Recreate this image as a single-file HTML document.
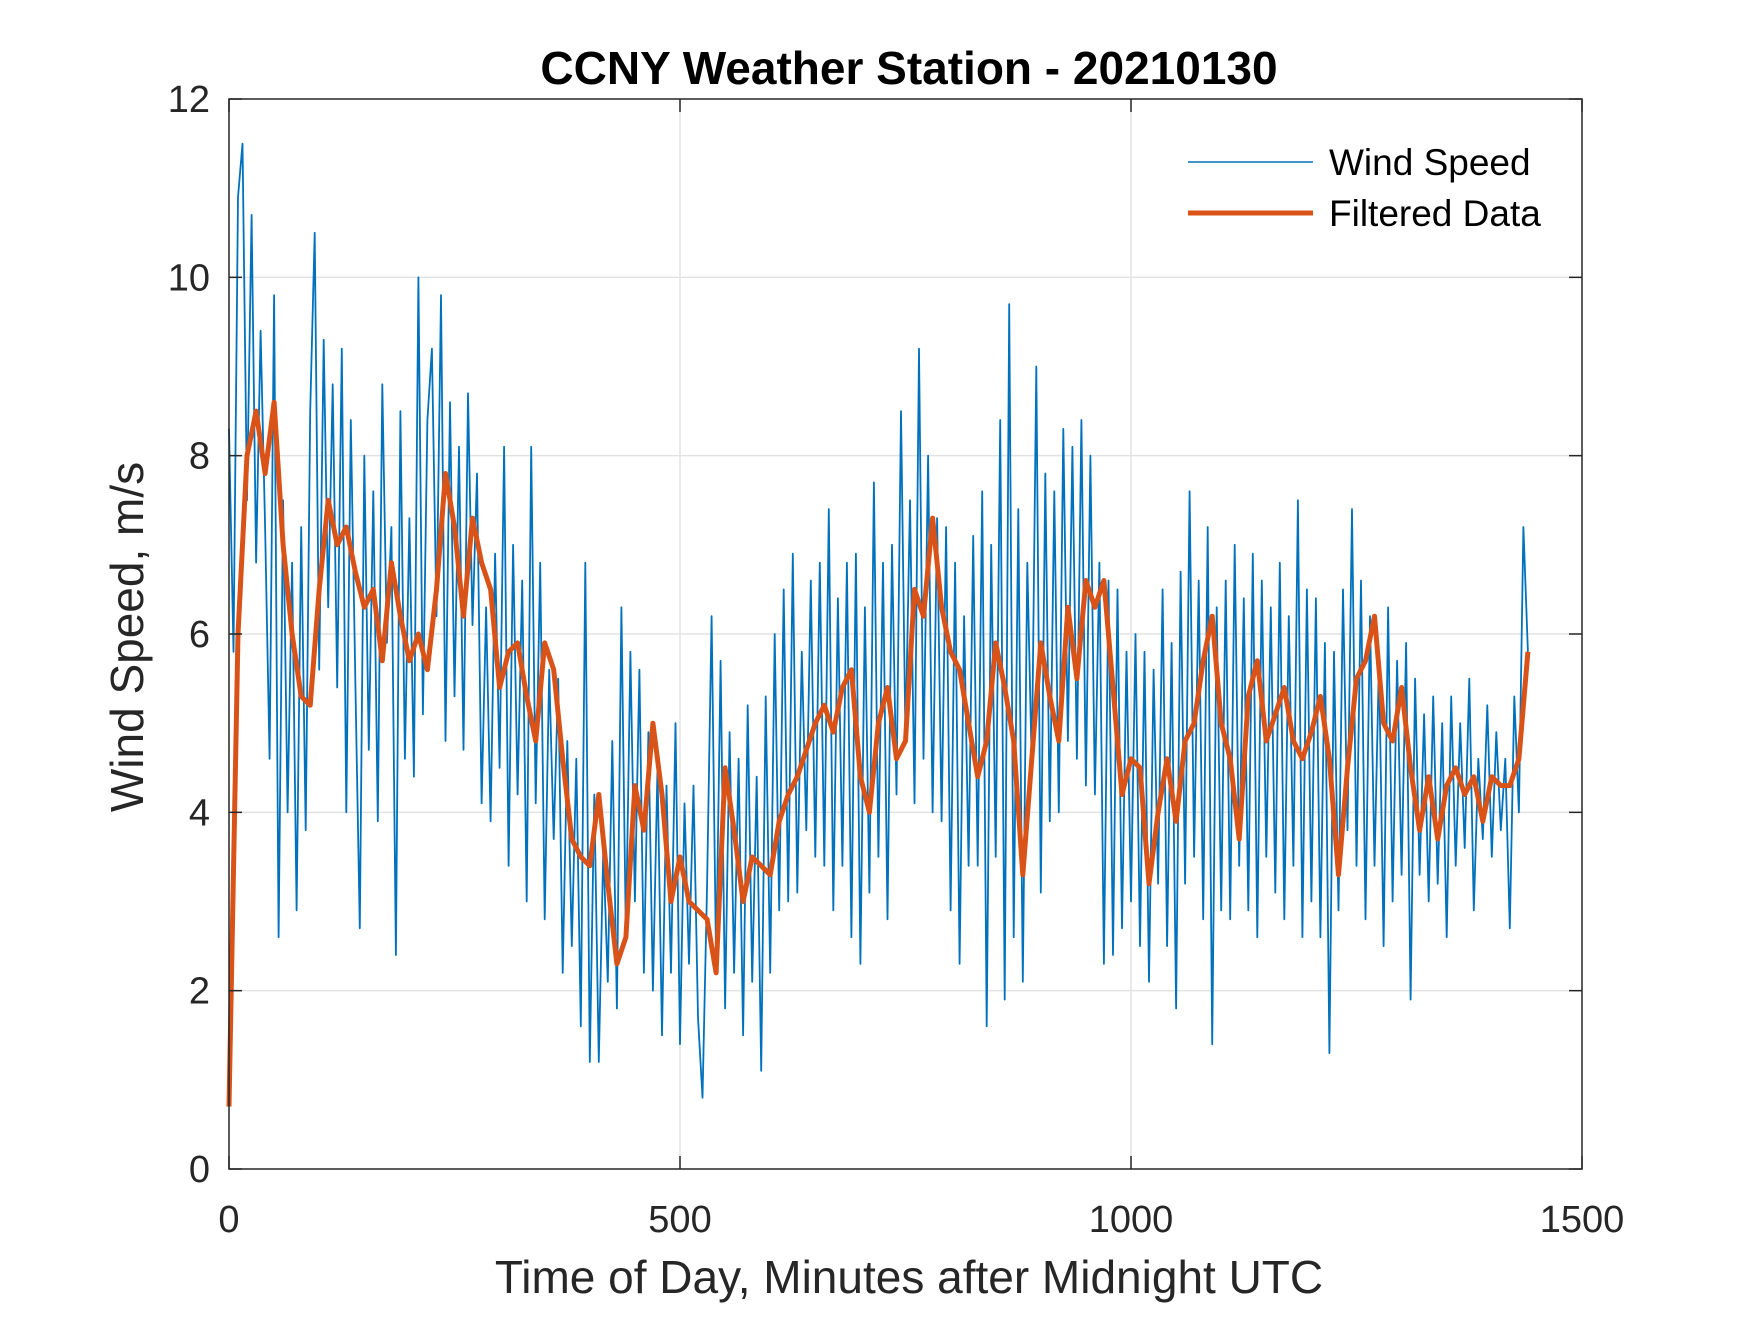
<!DOCTYPE html>
<html><head><meta charset="utf-8"><style>
body{margin:0;background:#fff}
svg text{font-family:"Liberation Sans",Arial,sans-serif}
</style></head><body>
<svg id="chart" width="1750" height="1313" viewBox="0 0 1750 1313">
<rect width="1750" height="1313" fill="#fff"/>
<g id="grid"></g>
<g id="series"></g>
<rect x="229" y="99" width="1353" height="1070" fill="none" stroke="#262626" stroke-width="1.5"/>
<g id="ticks"></g>
<text x="909" y="84" text-anchor="middle" font-size="46" font-weight="bold" fill="#000">CCNY Weather Station - 20210130</text>
<text x="909" y="1293" text-anchor="middle" font-size="46" fill="#262626">Time of Day, Minutes after Midnight UTC</text>
<text transform="translate(143,637) rotate(-90)" text-anchor="middle" font-size="46" fill="#262626">Wind Speed, m/s</text>
<g>
<line x1="1188" y1="162" x2="1313" y2="162" stroke="#0072BD" stroke-width="1.5"/>
<text x="1329" y="175" font-size="37" fill="#000">Wind Speed</text>
<line x1="1188" y1="213" x2="1313" y2="213" stroke="#D95319" stroke-width="5"/>
<text x="1329" y="226" font-size="37" fill="#000">Filtered Data</text>
</g>
</svg>
<script>
const xTicks=[0,500,1000,1500];
const yTicks=[0,2,4,6,8,10,12];
const windSpeed=[
8.3,5.8,10.9,11.5,7.5,10.7,6.8,9.4,7.2,4.6,
9.8,2.6,7.5,4.0,6.8,2.9,7.2,3.8,8.5,10.5,
5.6,9.3,6.3,8.8,5.4,9.2,4.0,8.4,5.5,2.7,
8.0,4.7,7.6,3.9,8.8,5.9,7.2,2.4,8.5,4.6,
7.3,4.4,10.0,5.1,8.4,9.2,6.2,9.8,4.8,8.6,
5.3,8.1,4.7,8.7,6.1,7.8,4.1,6.3,3.9,6.9,
4.5,8.1,3.4,7.0,4.2,6.6,3.0,8.1,4.1,6.8,
2.8,5.6,3.7,5.5,2.2,4.8,2.5,4.6,1.6,6.8,
1.2,4.2,1.2,3.6,2.1,4.8,1.8,6.3,2.6,5.8,
3.0,5.6,2.2,4.9,2.0,4.5,1.5,4.3,2.2,5.0,
1.4,4.1,2.3,4.3,1.7,0.8,3.2,6.2,2.3,5.7,
1.8,4.9,2.2,4.6,1.5,5.2,2.1,4.4,1.1,5.3,
2.2,6.0,2.9,6.5,3.0,6.9,3.1,5.8,3.8,6.6,
3.5,6.8,3.4,7.4,2.9,6.4,3.4,6.8,2.6,6.9,
2.3,6.3,3.1,7.7,3.5,6.8,2.8,7.0,4.2,8.5,
4.8,7.5,4.1,9.2,4.6,8.0,4.0,7.3,3.9,7.2,
2.9,6.8,2.3,6.2,3.4,7.1,3.4,7.6,1.6,7.0,
3.5,8.4,1.9,9.7,2.6,7.4,2.1,6.8,4.5,9.0,
3.1,7.8,3.9,7.6,4.0,8.3,4.8,8.1,4.6,8.4,
4.3,8.0,4.2,6.8,2.3,6.6,2.4,6.5,2.7,5.8,
3.0,6.0,2.5,5.8,2.1,5.6,3.2,6.5,2.5,5.9,
1.8,6.7,3.2,7.6,3.5,6.6,2.8,7.2,1.4,6.3,
2.9,6.6,2.8,7.0,3.4,6.4,2.9,6.9,2.6,6.6,
3.5,6.3,3.1,6.8,2.8,6.2,3.4,7.5,2.6,6.5,
3.0,6.4,2.6,5.9,1.3,5.8,2.9,6.5,3.8,7.4,
3.4,6.6,2.8,6.2,3.4,5.7,2.5,6.3,3.0,5.7,
3.3,5.9,1.9,5.5,3.3,5.1,3.0,5.3,3.2,5.0,
2.6,5.3,3.4,5.0,3.6,5.5,2.9,4.6,3.7,5.2,
3.5,4.9,3.8,4.6,2.7,5.3,4.0,7.2,5.8];
const filtered=[
0.7,6,8,8.5,7.8,8.6,7,6,5.3,5.2,
6.5,7.5,7,7.2,6.7,6.3,6.5,5.7,6.8,6.2,
5.7,6,5.6,6.5,7.8,7.2,6.2,7.3,6.8,6.5,
5.4,5.8,5.9,5.3,4.8,5.9,5.6,4.6,3.7,3.5,
3.4,4.2,3.2,2.3,2.6,4.3,3.8,5,4.2,3,
3.5,3,2.9,2.8,2.2,4.5,3.8,3.0,3.5,3.4,
3.3,3.9,4.2,4.4,4.7,5,5.2,4.9,5.4,5.6,
4.4,4.0,5,5.4,4.6,4.8,6.5,6.2,7.3,6.3,
5.8,5.6,5.0,4.4,4.8,5.9,5.4,4.8,3.3,4.6,
5.9,5.3,4.8,6.3,5.5,6.6,6.3,6.6,5.4,4.2,
4.6,4.5,3.2,4.0,4.6,3.9,4.8,5.0,5.7,6.2,
5.0,4.6,3.7,5.3,5.7,4.8,5.1,5.4,4.8,4.6,
4.9,5.3,4.6,3.3,4.5,5.5,5.7,6.2,5.0,4.8,
5.4,4.5,3.8,4.4,3.7,4.3,4.5,4.2,4.4,3.9,
4.4,4.3,4.3,4.6,5.8];
const windStep=5, filtStep=10;
const X0=229,X1=1582,Y0=1169,Y1=99;
const xs=v=>X0+(v-0)/1500*(X1-X0);
const ys=v=>Y0-(v-0)/12*(Y0-Y1);
const NS='http://www.w3.org/2000/svg';
const grid=document.getElementById('grid'),ticks=document.getElementById('ticks'),series=document.getElementById('series');
function mk(tag,attrs,parent){const e=document.createElementNS(NS,tag);for(const k in attrs)e.setAttribute(k,attrs[k]);parent.appendChild(e);return e;}
xTicks.forEach(t=>{
  const x=xs(t);
  if(t>0&&t<1500){const g=mk('line',{x1:x,x2:x,y1:Y1,y2:Y0,stroke:'#e3e3e3','stroke-width':1.5},grid);
  
  }
  mk('line',{x1:x,x2:x,y1:Y0,y2:Y0-13,stroke:'#262626','stroke-width':1.5},ticks);
  mk('line',{x1:x,x2:x,y1:Y1,y2:Y1+13,stroke:'#262626','stroke-width':1.5},ticks);
  const l=mk('text',{x:x,y:1232,'text-anchor':'middle','font-size':38,fill:'#262626'},ticks);
  l.textContent=t;
  
  
});
yTicks.forEach(t=>{
  const y=ys(t);
  if(t>0&&t<12){const g=mk('line',{x1:X0,x2:X1,y1:y,y2:y,stroke:'#e3e3e3','stroke-width':1.5},grid);
  
  }
  mk('line',{x1:X0,x2:X0+13,y1:y,y2:y,stroke:'#262626','stroke-width':1.5},ticks);
  mk('line',{x1:X1,x2:X1-13,y1:y,y2:y,stroke:'#262626','stroke-width':1.5},ticks);
  const l=mk('text',{x:210,y:y+13,'text-anchor':'end','font-size':38,fill:'#262626'},ticks);
  l.textContent=t;
  
  
});
const wp=windSpeed.map((v,i)=>xs(i*windStep).toFixed(1)+','+ys(v).toFixed(1)).join(' ');
const w=mk('polyline',{points:wp,fill:'none',stroke:'#0072BD','stroke-width':1.8,'stroke-linejoin':'round'},series);


const fp=filtered.map((v,i)=>xs(i*filtStep).toFixed(1)+','+ys(v).toFixed(1)).join(' ');
const f=mk('polyline',{points:fp,fill:'none',stroke:'#D95319','stroke-width':5,'stroke-linejoin':'round'},series);


</script>
</body></html>
